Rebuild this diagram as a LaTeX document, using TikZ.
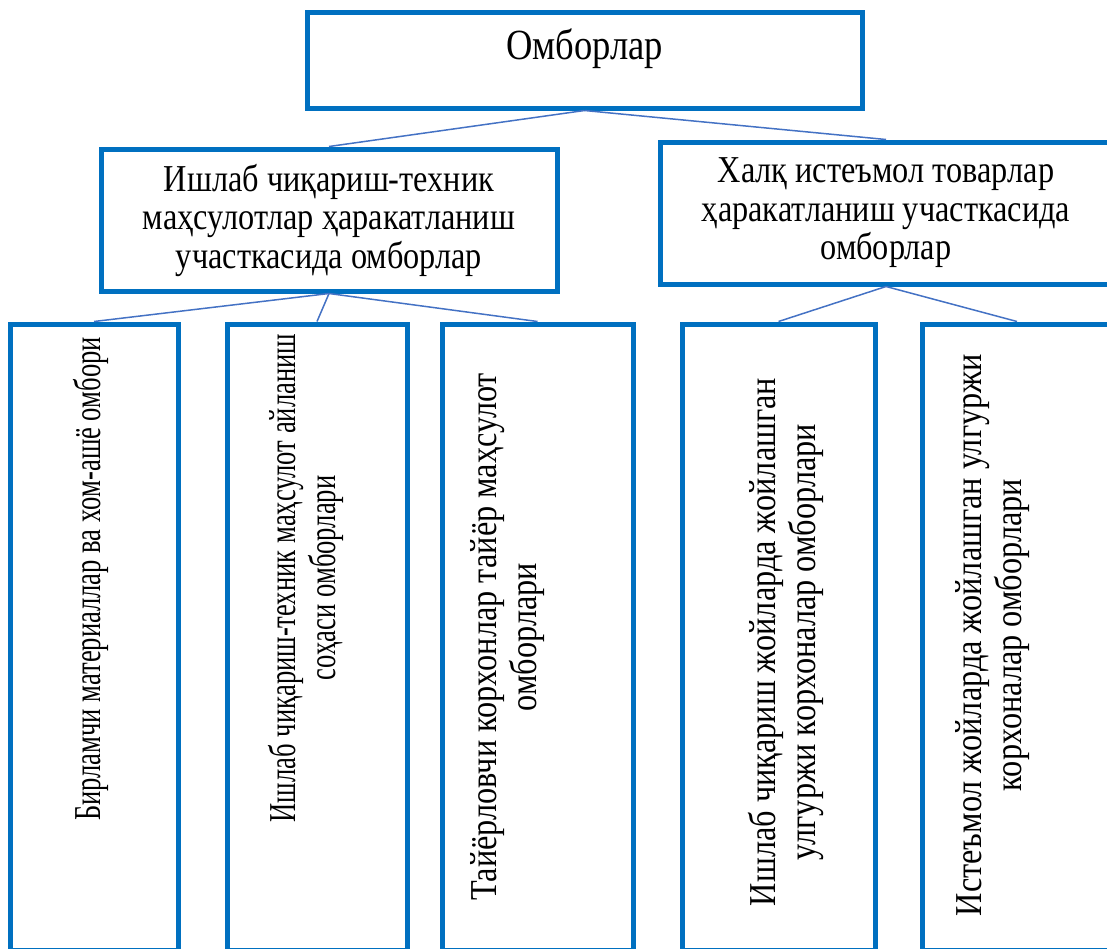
\documentclass[tikz,border=0pt]{standalone}
\usepackage{fontspec}
\setmainfont{Liberation Serif}[FakeStretch=0.85]
\newfontfamily\tightfont{Liberation Serif}[FakeStretch=0.7]
\definecolor{cFrame}{HTML}{0070C0}
\definecolor{cLink}{HTML}{4472C4}
\tikzset{
  box/.style={draw=cFrame, line width=5pt, fill=white, inner sep=0pt, align=center,
              font=\fontsize{38pt}{38.5pt}\selectfont},
  vtext/.style={rotate=90, align=center, inner sep=0pt, font=\fontsize{38pt}{40pt}\selectfont},
  link/.style={draw=cLink, line width=1.5pt},
}

\begin{document}
\begin{tikzpicture}[x=1pt, y=-1pt]
\useasboundingbox (0,0) rectangle (1107,948);
\clip (0,0) rectangle (1107,948);
% top level
\node[box, minimum width=555pt, minimum height=96pt, text depth=32pt,
      font=\fontsize{43pt}{45pt}\selectfont] (store) at (584.5,60) {Омборлар};
% second level
\node[box, minimum width=456pt, minimum height=142pt] (prodzone) at (329,220)
  {Ишлаб чиқариш-техник\\маҳсулотлар ҳаракатланиш\\участкасида омборлар};
\node[box, minimum width=452pt, minimum height=142pt] (conszone) at (886,213)
  {Халқ истеъмол товарлар\\ҳаракатланиш участкасида\\омборлар};
% third level, rotated texts
\node[box, minimum width=168pt, minimum height=626pt] (raw) at (94,637) {};
\node[box, minimum width=180pt, minimum height=626pt] (techflow) at (317,637) {};
\node[box, minimum width=191pt, minimum height=626pt] (finished) at (537.5,637) {};
\node[box, minimum width=193pt, minimum height=626pt] (wholeprod) at (778.5,637) {};
\node[box, minimum width=190pt, minimum height=626pt] (wholecons) at (1017,637) {};
\node[vtext, font=\tightfont\fontsize{38pt}{40pt}\selectfont] (raw-txt) at (91,579)
  {Бирламчи материаллар ва хом-ашё омбори};
\node[vtext, font=\tightfont\fontsize{38pt}{40pt}\selectfont] (techflow-txt) at (306,578)
  {Ишлаб чиқариш-техник маҳсулот айланиш\\соҳаси омборлари};
\node[vtext] (finished-txt) at (508,637) {Тайёрловчи корхонлар тайёр маҳсулот\\омборлари};
\node[vtext] (wholeprod-txt) at (786,642) {Ишлаб чиқариш жойларда жойлашган\\улгуржи корхоналар омборлари};
\node[vtext] (wholecons-txt) at (993,635) {Истеъмол жойларда жойлашган улгуржи\\корхоналар омборлари};
% connectors
\draw[link] (store.south) -- (prodzone.north);
\draw[link] (store.south) -- (conszone.north);
\draw[link] (prodzone.south) -- (raw.north);
\draw[link] (prodzone.south) -- (techflow.north);
\draw[link] (prodzone.south) -- (finished.north);
\draw[link] (conszone.south) -- (wholeprod.north);
\draw[link] (conszone.south) -- (wholecons.north);
\end{tikzpicture}
\end{document}
